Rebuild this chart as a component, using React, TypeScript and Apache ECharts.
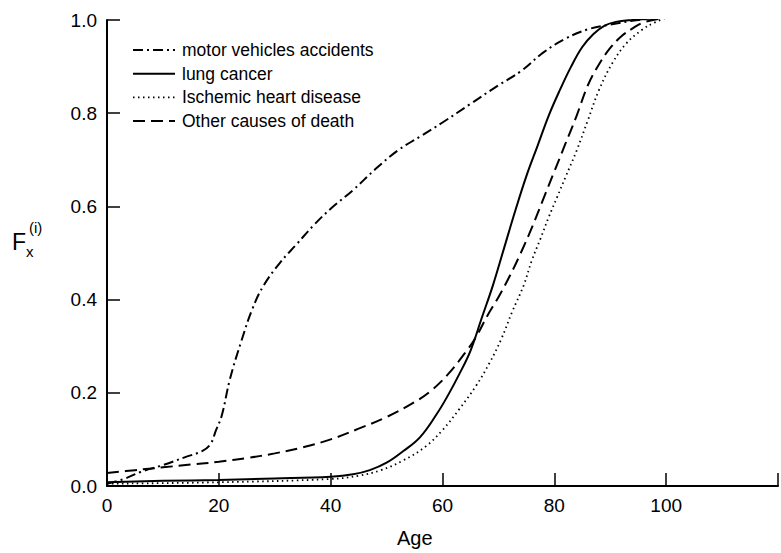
import React, { useEffect, useRef } from "react";
import * as echarts from "echarts";

const seriesNames = [
  "motor vehicles accidents",
  "lung cancer",
  "Ischemic heart disease",
  "Other causes of death",
];

const xTicks = [0, 20, 40, 60, 80, 100, 120];
const yTicks = [0, 0.2, 0.4, 0.6, 0.8, 1.0];

const motorAges = [0, 3, 6, 10, 14, 17, 18.5, 19.5, 20.5, 22, 24, 26, 28, 31, 34, 37, 40, 44, 48, 52, 56, 60, 65, 70, 74, 78, 82, 86, 90, 95, 100];
const motorF = [0.005, 0.015, 0.03, 0.045, 0.062, 0.075, 0.09, 0.12, 0.15, 0.23, 0.31, 0.38, 0.43, 0.48, 0.52, 0.56, 0.595, 0.635, 0.68, 0.72, 0.75, 0.78, 0.82, 0.86, 0.89, 0.93, 0.96, 0.98, 0.99, 1.0, 1.005];

const lungAges = [0, 10, 20, 30, 40, 44, 47, 50, 53, 56, 59, 61, 63, 65, 67, 69, 71, 73, 75, 77, 79, 81, 83, 85, 87, 89, 91, 94, 100];
const lungF = [0.008, 0.011, 0.013, 0.016, 0.02, 0.025, 0.034, 0.05, 0.075, 0.105, 0.155, 0.195, 0.24, 0.29, 0.36, 0.43, 0.51, 0.59, 0.665, 0.73, 0.795, 0.85, 0.9, 0.942, 0.97, 0.988, 0.996, 1.0, 1.005];

const ischemicAges = [0, 20, 40, 45, 49, 53, 57, 60, 63, 66, 68.4, 70.5, 72.5, 74.5, 76, 77.5, 79, 80.5, 82, 84, 86, 88, 90.4, 92.9, 95.7, 98, 100];
const ischemicF = [0.005, 0.008, 0.015, 0.022, 0.034, 0.055, 0.085, 0.12, 0.165, 0.215, 0.264, 0.315, 0.375, 0.43, 0.485, 0.53, 0.577, 0.62, 0.663, 0.72, 0.785, 0.85, 0.908, 0.95, 0.979, 0.995, 1.005];

const otherAges = [0, 5, 10, 15, 20, 25, 30, 35, 40, 45, 50, 55, 58, 61, 64, 66, 68, 70, 72, 74, 76, 78, 80, 82, 84, 86, 88, 90, 92, 94, 96, 100];
const otherF = [0.028, 0.034, 0.04, 0.046, 0.052, 0.06, 0.07, 0.083, 0.1, 0.123, 0.148, 0.18, 0.205, 0.24, 0.285, 0.32, 0.365, 0.405, 0.45, 0.5, 0.555, 0.615, 0.675, 0.735, 0.795, 0.86, 0.905, 0.94, 0.965, 0.982, 0.995, 1.005];

const zip = (xs: number[], ys: number[]) => xs.map((x, i) => [x, ys[i]]);

const FONT = "'Liberation Sans', Arial, sans-serif";

const dashes: any[] = [[10, 4, 2, 4], null, [1.5, 3.5], [12, 6]];
const widths = [2, 2, 1.8, 2];

export default function App() {
  const ref = useRef<HTMLDivElement>(null);
  useEffect(() => {
    document.body.style.margin = "0";
    if (!ref.current) return;
    const chart = echarts.init(ref.current, null, { renderer: "svg" });
    const mk = (i: number, data: number[][]) => ({
      name: seriesNames[i],
      type: "line",
      data,
      showSymbol: false,
      symbol: "none",
      smooth: 0.4,
      lineStyle: { color: "#000", width: widths[i], type: dashes[i] ?? "solid" },
      itemStyle: { color: "#000" },
      z: 3,
    });
    const legendItems: any[] = [];
    seriesNames.forEach((name, i) => {
      const cy = 50 + i * 23.7;
      legendItems.push({
        type: "line",
        shape: { x1: 133, y1: cy, x2: 175, y2: cy },
        style: { stroke: "#000", lineWidth: widths[i], lineDash: dashes[i] || undefined },
      });
      legendItems.push({
        type: "text",
        x: 182,
        y: cy,
        style: { text: name, fontSize: 17.5, fill: "#000", fontFamily: FONT, verticalAlign: "middle" },
      });
    });
    chart.setOption({
      animation: false,
      backgroundColor: "#fff",
      textStyle: { fontFamily: FONT },
      grid: { left: 107, right: 2, top: 20, bottom: 67, containLabel: false },
      xAxis: {
        type: "value",
        min: xTicks[0],
        max: xTicks[xTicks.length - 1],
        interval: 20,
        axisLine: { lineStyle: { color: "#000", width: 2 } },
        axisTick: { inside: true, length: 13, lineStyle: { color: "#000", width: 1.5 } },
        splitLine: { show: false },
        axisLabel: {
          margin: 10,
          fontSize: 19,
          color: "#000",
          fontFamily: FONT,
          formatter: (v: number) => (v === 120 ? "" : String(v)),
        },
      },
      yAxis: {
        type: "value",
        min: yTicks[0],
        max: yTicks[yTicks.length - 1],
        interval: 0.2,
        axisLine: { lineStyle: { color: "#000", width: 2 } },
        axisTick: { inside: true, length: 13, lineStyle: { color: "#000", width: 1.5 } },
        splitLine: { show: false },
        axisLabel: {
          margin: 10,
          fontSize: 19,
          color: "#000",
          fontFamily: FONT,
          formatter: (v: number) => v.toFixed(1),
        },
      },
      graphic: [
        ...legendItems,
        {
          type: "text",
          x: 397,
          y: 528,
          style: { text: "Age", fontSize: 20, fill: "#000", fontFamily: FONT },
        },
        { type: "text", x: 12, y: 230, style: { text: "F", fontSize: 23, fill: "#000", fontFamily: FONT } },
        { type: "text", x: 26, y: 244, style: { text: "x", fontSize: 15, fill: "#000", fontFamily: FONT } },
        { type: "text", x: 29, y: 220, style: { text: "(i)", fontSize: 15, fill: "#000", fontFamily: FONT } },
      ],
      series: [
        mk(0, zip(motorAges, motorF)),
        mk(1, zip(lungAges, lungF)),
        mk(2, zip(ischemicAges, ischemicF)),
        mk(3, zip(otherAges, otherF)),
      ],
    });
    return () => chart.dispose();
  }, []);
  return <div ref={ref} style={{ width: 781, height: 553 }} />;
}
